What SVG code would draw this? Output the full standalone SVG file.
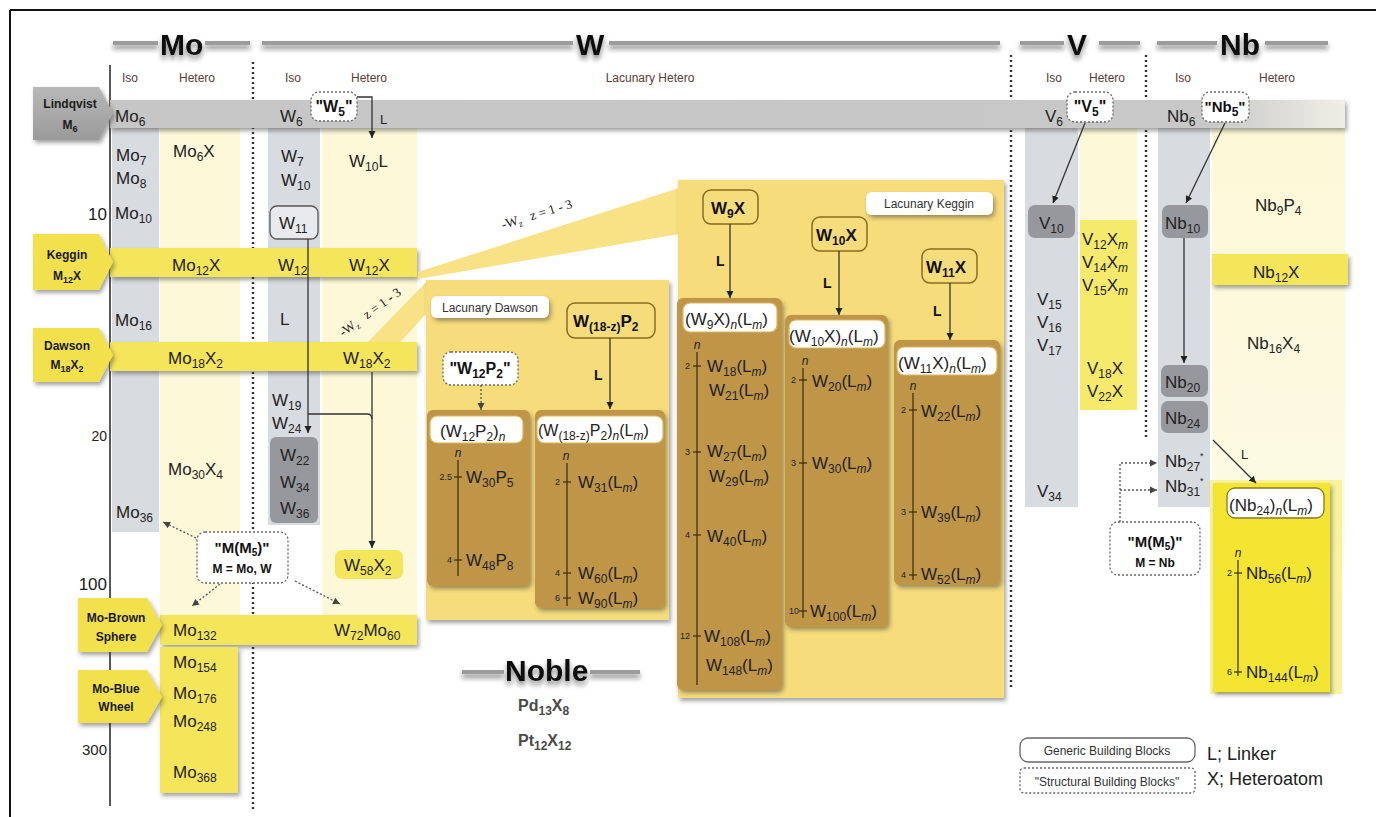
<svg xmlns="http://www.w3.org/2000/svg" width="1376" height="817" viewBox="0 0 1376 817">
<defs>
<style>
text{font-family:"Liberation Sans",Arial,Helvetica,sans-serif;font-size:17px;fill:#222}
.s{font-size:12px}
.i{font-style:italic}
.b{font-weight:bold;fill:#111}
.hd{font-size:30px;font-weight:bold;fill:#111}
.col{font-size:12px;fill:#5a3c35;text-anchor:middle}
.lab{font-size:12px;font-weight:bold;fill:#1a1a1a;text-anchor:middle}
.tk{font-size:9px;fill:#222;text-anchor:end}
.nn{font-size:12px;font-style:italic;fill:#222;text-anchor:middle}
.wz{font-family:"Liberation Serif","Times New Roman",serif;font-size:13px;fill:#222}
.iso{fill:#d8dbe0}
.het{fill:#fcf8d8}
.band{fill:#f5e55a}
.pan{fill:#f7dc7b}
.wedge{fill:#f8e285}
.brn{fill:#bf9546}
.hb{fill:#fff;stroke:#d9b865;stroke-width:1.2}
.dk{fill:#97989d}
.db{fill:#fff;stroke:#666;stroke-width:1.3;stroke-dasharray:2 2}
.gb{fill:#fff;stroke:#666;stroke-width:1.3}
.kb{fill:#f7dc7b;stroke:#8a6a1c;stroke-width:1.5}
.ax{stroke:#3a2a10;stroke-width:1.2}
.ln{stroke:#333;stroke-width:1.3;fill:none}
.dl{stroke:#555;stroke-width:1.3;fill:none;stroke-dasharray:2 2}
.sep{stroke:#333;stroke-width:2.4;stroke-dasharray:2 3}
.hl{stroke:#9c9c9c;stroke-width:4}
.ll{font-size:14px;font-weight:bold;fill:#111}
.lt{font-size:13px;fill:#222}
.lg{font-size:12px;fill:#333;text-anchor:middle}
.pl{font-size:12px;fill:#333;text-anchor:middle}
.mm{font-size:15px;font-weight:bold;fill:#111;text-anchor:middle}
.me{font-size:12px;font-weight:bold;fill:#111;text-anchor:middle}
.q{font-size:16px;font-weight:bold;fill:#111;text-anchor:middle}
.nb{font-size:16px;font-weight:bold;fill:#4a4a4a}
.key{font-size:18px;fill:#222}
</style>
<marker id="ar" markerWidth="8" markerHeight="8" refX="7" refY="4" orient="auto" markerUnits="userSpaceOnUse">
<path d="M0,0.5 L7,4 L0,7.5 z" fill="#222"/>
</marker>
<marker id="ard" markerWidth="8" markerHeight="8" refX="7" refY="4" orient="auto" markerUnits="userSpaceOnUse">
<path d="M0,0.5 L7,4 L0,7.5 z" fill="#444"/>
</marker>
<filter id="sh" x="-10%" y="-30%" width="130%" height="180%">
<feDropShadow dx="2" dy="3" stdDeviation="2" flood-color="#333" flood-opacity="0.45"/>
</filter>
<filter id="hs" x="-10%" y="-60%" width="130%" height="260%">
<feDropShadow dx="0" dy="4" stdDeviation="2.5" flood-color="#222" flood-opacity="0.55"/>
</filter>
<linearGradient id="lq" gradientUnits="userSpaceOnUse" x1="110" y1="0" x2="1345" y2="0">
<stop offset="0" stop-color="#c6c6c6"/>
<stop offset="0.89" stop-color="#c8c8c8"/>
<stop offset="1" stop-color="#efeee6"/>
</linearGradient>
<linearGradient id="nbh" x1="0" y1="0" x2="0" y2="1">
<stop offset="0" stop-color="#fcf8d6"/>
<stop offset="0.8" stop-color="#fdfae4"/>
<stop offset="1" stop-color="#ffffff"/>
</linearGradient>
<linearGradient id="lbl" x1="0" y1="0" x2="0" y2="1">
<stop offset="0" stop-color="#b8b8b8"/>
<stop offset="1" stop-color="#9a9a9a"/>
</linearGradient>
</defs>

<rect width="1376" height="817" fill="#fff"/>
<g id="frame">
<line x1="10" y1="10" x2="1376" y2="10" stroke="#111" stroke-width="2"/>
<line x1="10" y1="10" x2="10" y2="817" stroke="#111" stroke-width="2"/>
</g>

<g id="columns">
<rect class="iso" x="112" y="128" width="47" height="404"/>
<rect class="het" x="160" y="128" width="80" height="487"/>
<rect class="iso" x="268" y="128" width="52" height="397"/>
<rect class="het" x="322" y="128" width="95" height="487"/>
<rect class="iso" x="1025" y="128" width="53" height="379"/>
<rect class="het" x="1080" y="128" width="57" height="92"/>
<rect fill="#f6ea6c" x="1080" y="220" width="57" height="190"/>
<rect class="iso" x="1158" y="128" width="52" height="379"/>
<rect fill="url(#nbh)" x="1212" y="128" width="133" height="480"/>
</g>

<g id="headers">
<g filter="url(#hs)">
<line class="hl" x1="113" y1="43" x2="158" y2="43"/>
<line class="hl" x1="205" y1="43" x2="250" y2="43"/>
<line class="hl" x1="262" y1="43" x2="573" y2="43"/>
<line class="hl" x1="609" y1="43" x2="1000" y2="43"/>
<line class="hl" x1="1020" y1="43" x2="1064" y2="43"/>
<line class="hl" x1="1099" y1="43" x2="1140" y2="43"/>
<line class="hl" x1="1157" y1="43" x2="1217" y2="43"/>
<line class="hl" x1="1265" y1="43" x2="1328" y2="43"/>
<line class="hl" x1="462" y1="672" x2="504" y2="672"/>
<line class="hl" x1="590" y1="672" x2="640" y2="672"/>
<text class="hd" x="160" y="55">Mo</text>
<text class="hd" x="576" y="55">W</text>
<text class="hd" x="1067" y="55">V</text>
<text class="hd" x="1220" y="55">Nb</text>
<text class="hd" x="505" y="681">Noble</text>
</g>
<text class="col" x="130" y="82">Iso</text>
<text class="col" x="197" y="82">Hetero</text>
<text class="col" x="293" y="82">Iso</text>
<text class="col" x="369" y="82">Hetero</text>
<text class="col" x="650" y="82">Lacunary Hetero</text>
<text class="col" x="1054" y="82">Iso</text>
<text class="col" x="1107" y="82">Hetero</text>
<text class="col" x="1183" y="82">Iso</text>
<text class="col" x="1277" y="82">Hetero</text>
</g>

<g id="axis">
<line x1="110" y1="65" x2="110" y2="806" stroke="#222" stroke-width="1.5"/>
<text x="107" y="220" text-anchor="end">10</text>
<text x="107" y="441" text-anchor="end" style="font-size:14px">20</text>
<text x="107" y="590" text-anchor="end">100</text>
<text x="107" y="755" text-anchor="end" style="font-size:15px">300</text>
</g>

<g id="separators">
<line class="sep" x1="253" y1="62" x2="253" y2="812"/>
<line class="sep" x1="1011" y1="55" x2="1011" y2="688"/>
<line class="sep" x1="1146" y1="55" x2="1146" y2="438"/>
</g>

<g id="lindqvist">
<rect x="110" y="100" width="1235" height="28" fill="url(#lq)" filter="url(#sh)"/>
<polygon points="33,87 99,87 113,113 99,140 33,140" fill="url(#lbl)" filter="url(#sh)"/>
<text class="lab" x="70" y="108">Lindqvist</text>
<text class="lab" x="70" y="129">M<tspan font-size="9" dy="3">6</tspan></text>
</g>
<g id="keggin">
<rect class="band" x="110" y="248" width="307" height="29" filter="url(#sh)"/>
<polygon points="33,234 99,234 113,262 99,290 33,290" fill="#f2e14e" filter="url(#sh)"/>
<text class="lab" x="67" y="259">Keggin</text>
<text class="lab" x="67" y="280">M<tspan font-size="9" dy="3">12</tspan><tspan dy="-3">X</tspan></text>
</g>
<g id="dawson">
<rect class="band" x="110" y="342" width="307" height="29" filter="url(#sh)"/>
<polygon points="33,328 99,328 113,355 99,382 33,382" fill="#f2e14e" filter="url(#sh)"/>
<text class="lab" x="67" y="350">Dawson</text>
<text class="lab" x="67" y="369">M<tspan font-size="9" dy="3">18</tspan><tspan dy="-3">X</tspan><tspan font-size="9" dy="3">2</tspan></text>
</g>
<g id="mo-brown">
<rect class="band" x="160" y="615" width="257" height="30" filter="url(#sh)"/>
<polygon points="78,598 147,598 162,625 147,652 78,652" fill="#f2e14e" filter="url(#sh)"/>
<text class="lab" x="116" y="622">Mo-Brown</text>
<text class="lab" x="116" y="641">Sphere</text>
</g>
<g id="mo-blue">
<rect class="band" x="160" y="647" width="78" height="146" filter="url(#sh)"/>
<polygon points="78,670 147,670 162,697 147,723 78,723" fill="#f2e14e" filter="url(#sh)"/>
<text class="lab" x="116" y="693">Mo-Blue</text>
<text class="lab" x="116" y="711">Wheel</text>
</g>
<g id="nb12x">
<rect class="band" x="1212" y="254" width="136" height="31" filter="url(#sh)"/>
<text x="1253" y="278">Nb<tspan class="s" dy="4">12</tspan><tspan dy="-4">X</tspan></text>
</g>

<g id="wedges">
<polygon class="wedge" points="418,272 679,188 679,234 418,279"/>
<polygon class="wedge" points="368,342 428,280 428,312 400,342"/>
<text class="wz" transform="translate(503,229) rotate(-17)">-W<tspan font-size="9" dy="3">z</tspan><tspan dy="-3" dx="9">z = 1 - 3</tspan></text>
<text class="wz" transform="translate(343,337) rotate(-36)">-W<tspan font-size="9" dy="3">z</tspan><tspan dy="-3" dx="9">z = 1 - 3</tspan></text>
</g>

<g id="lacunary-dawson">
<rect class="pan" x="426" y="280" width="243" height="340" filter="url(#sh)"/>
<rect x="431" y="296" width="118" height="22" rx="6" fill="#fff" filter="url(#sh)"/>
<text class="pl" x="490" y="312">Lacunary Dawson</text>
</g>
<g id="lacunary-keggin">
<rect class="pan" x="678" y="180" width="326" height="518" filter="url(#sh)"/>
<rect x="866" y="192" width="127" height="23" rx="6" fill="#fff" filter="url(#sh)"/>
<text class="pl" x="929" y="208">Lacunary Keggin</text>
</g>

<g id="W9X">
<rect class="kb" x="703" y="190" width="55" height="34" rx="8"/>
<text class="b" x="711" y="214">W<tspan class="s" dy="4">9</tspan><tspan dy="-4">X</tspan></text>
</g>
<g id="W10X">
<rect class="kb" x="812" y="217" width="55" height="34" rx="8"/>
<text class="b" x="816" y="241">W<tspan class="s" dy="4">10</tspan><tspan dy="-4">X</tspan></text>
</g>
<g id="W11X">
<rect class="kb" x="922" y="249" width="55" height="34" rx="8"/>
<text class="b" x="926" y="273">W<tspan class="s" dy="4">11</tspan><tspan dy="-4">X</tspan></text>
</g>
<g id="W18zP2">
<rect class="kb" x="567" y="303" width="88" height="35" rx="8"/>
<text class="b" x="573" y="327">W<tspan class="s" dy="4">(18-z)</tspan><tspan dy="-4">P</tspan><tspan class="s" dy="4">2</tspan></text>
</g>
<g id="W12P2">
<rect class="db" x="443" y="352" width="75" height="33" rx="8"/>
<text class="q" x="480" y="374">"W<tspan class="s" dy="4">12</tspan><tspan dy="-4">P</tspan><tspan class="s" dy="4">2</tspan><tspan dy="-4">"</tspan></text>
</g>

<g id="W9X-n">
<rect class="brn" x="677" y="298" width="105" height="392" rx="6" filter="url(#sh)"/>
<rect class="hb" x="683" y="303" width="94" height="29" rx="7"/>
<text x="685" y="325">(W<tspan class="s" dy="4">9</tspan><tspan dy="-4">X)</tspan><tspan class="s i" dy="4">n</tspan><tspan dy="-4">(L</tspan><tspan class="s i" dy="4">m</tspan><tspan dy="-4">)</tspan></text>
<line class="ax" x1="697" y1="352" x2="697" y2="685"/>
<text class="nn" x="697" y="349">n</text>
<line class="ax" x1="693" y1="366" x2="701" y2="366"/><text class="tk" x="690" y="369">2</text>
<line class="ax" x1="693" y1="452" x2="701" y2="452"/><text class="tk" x="690" y="455">3</text>
<line class="ax" x1="693" y1="535" x2="701" y2="535"/><text class="tk" x="690" y="538">4</text>
<line class="ax" x1="693" y1="636" x2="701" y2="636"/><text class="tk" x="690" y="639">12</text>
<text x="707" y="372">W<tspan class="s" dy="4">18</tspan><tspan dy="-4">(L</tspan><tspan class="s i" dy="4">m</tspan><tspan dy="-4">)</tspan></text>
<text x="709" y="396">W<tspan class="s" dy="4">21</tspan><tspan dy="-4">(L</tspan><tspan class="s i" dy="4">m</tspan><tspan dy="-4">)</tspan></text>
<text x="707" y="457">W<tspan class="s" dy="4">27</tspan><tspan dy="-4">(L</tspan><tspan class="s i" dy="4">m</tspan><tspan dy="-4">)</tspan></text>
<text x="709" y="482">W<tspan class="s" dy="4">29</tspan><tspan dy="-4">(L</tspan><tspan class="s i" dy="4">m</tspan><tspan dy="-4">)</tspan></text>
<text x="707" y="542">W<tspan class="s" dy="4">40</tspan><tspan dy="-4">(L</tspan><tspan class="s i" dy="4">m</tspan><tspan dy="-4">)</tspan></text>
<text x="704" y="642">W<tspan class="s" dy="4">108</tspan><tspan dy="-4">(L</tspan><tspan class="s i" dy="4">m</tspan><tspan dy="-4">)</tspan></text>
<text x="706" y="671">W<tspan class="s" dy="4">148</tspan><tspan dy="-4">(L</tspan><tspan class="s i" dy="4">m</tspan><tspan dy="-4">)</tspan></text>
</g>

<g id="W10X-n">
<rect class="brn" x="785" y="315" width="103" height="312" rx="6" filter="url(#sh)"/>
<rect class="hb" x="789" y="320" width="96" height="28" rx="7"/>
<text x="789" y="342">(W<tspan class="s" dy="4">10</tspan><tspan dy="-4">X)</tspan><tspan class="s i" dy="4">n</tspan><tspan dy="-4">(L</tspan><tspan class="s i" dy="4">m</tspan><tspan dy="-4">)</tspan></text>
<line class="ax" x1="803" y1="368" x2="803" y2="618"/>
<text class="nn" x="805" y="365">n</text>
<line class="ax" x1="799" y1="380" x2="807" y2="380"/><text class="tk" x="796" y="383">2</text>
<line class="ax" x1="799" y1="463" x2="807" y2="463"/><text class="tk" x="796" y="466">3</text>
<line class="ax" x1="799" y1="611" x2="807" y2="611"/><text class="tk" x="799" y="614">10</text>
<text x="812" y="387">W<tspan class="s" dy="4">20</tspan><tspan dy="-4">(L</tspan><tspan class="s i" dy="4">m</tspan><tspan dy="-4">)</tspan></text>
<text x="812" y="469">W<tspan class="s" dy="4">30</tspan><tspan dy="-4">(L</tspan><tspan class="s i" dy="4">m</tspan><tspan dy="-4">)</tspan></text>
<text x="810" y="617">W<tspan class="s" dy="4">100</tspan><tspan dy="-4">(L</tspan><tspan class="s i" dy="4">m</tspan><tspan dy="-4">)</tspan></text>
</g>

<g id="W11X-n">
<rect class="brn" x="894" y="340" width="106" height="245" rx="6" filter="url(#sh)"/>
<rect class="hb" x="897" y="347" width="100" height="28" rx="7"/>
<text x="898" y="369">(W<tspan class="s" dy="4">11</tspan><tspan dy="-4">X)</tspan><tspan class="s i" dy="4">n</tspan><tspan dy="-4">(L</tspan><tspan class="s i" dy="4">m</tspan><tspan dy="-4">)</tspan></text>
<line class="ax" x1="913" y1="393" x2="913" y2="580"/>
<text class="nn" x="913" y="390">n</text>
<line class="ax" x1="909" y1="410" x2="917" y2="410"/><text class="tk" x="906" y="413">2</text>
<line class="ax" x1="909" y1="512" x2="917" y2="512"/><text class="tk" x="906" y="515">3</text>
<line class="ax" x1="909" y1="575" x2="917" y2="575"/><text class="tk" x="906" y="578">4</text>
<text x="921" y="417">W<tspan class="s" dy="4">22</tspan><tspan dy="-4">(L</tspan><tspan class="s i" dy="4">m</tspan><tspan dy="-4">)</tspan></text>
<text x="921" y="518">W<tspan class="s" dy="4">39</tspan><tspan dy="-4">(L</tspan><tspan class="s i" dy="4">m</tspan><tspan dy="-4">)</tspan></text>
<text x="921" y="580">W<tspan class="s" dy="4">52</tspan><tspan dy="-4">(L</tspan><tspan class="s i" dy="4">m</tspan><tspan dy="-4">)</tspan></text>
</g>

<g id="W12P2-n">
<rect class="brn" x="427" y="410" width="103" height="176" rx="6" filter="url(#sh)"/>
<rect class="hb" x="430" y="416" width="93" height="27" rx="7"/>
<text x="440" y="437">(W<tspan class="s" dy="4">12</tspan><tspan dy="-4">P</tspan><tspan class="s" dy="4">2</tspan><tspan dy="-4">)</tspan><tspan class="s i" dy="4">n</tspan></text>
<line class="ax" x1="458" y1="460" x2="458" y2="576"/>
<text class="nn" x="458" y="457">n</text>
<line class="ax" x1="454" y1="477" x2="462" y2="477"/><text class="tk" x="452" y="480">2.5</text>
<line class="ax" x1="454" y1="560" x2="462" y2="560"/><text class="tk" x="452" y="563">4</text>
<text x="466" y="483">W<tspan class="s" dy="4">30</tspan><tspan dy="-4">P</tspan><tspan class="s" dy="4">5</tspan></text>
<text x="466" y="566">W<tspan class="s" dy="4">48</tspan><tspan dy="-4">P</tspan><tspan class="s" dy="4">8</tspan></text>
</g>

<g id="W18zP2-n">
<rect class="brn" x="535" y="410" width="130" height="198" rx="6" filter="url(#sh)"/>
<rect class="hb" x="537" y="416" width="126" height="27" rx="7"/>
<text x="538" y="436" style="font-size:16px">(W<tspan class="s" dy="4">(18-z)</tspan><tspan dy="-4">P</tspan><tspan class="s" dy="4">2</tspan><tspan dy="-4">)</tspan><tspan class="s i" dy="4">n</tspan><tspan dy="-4">(L</tspan><tspan class="s i" dy="4">m</tspan><tspan dy="-4">)</tspan></text>
<line class="ax" x1="567" y1="463" x2="567" y2="606"/>
<text class="nn" x="566" y="460">n</text>
<line class="ax" x1="563" y1="482" x2="571" y2="482"/><text class="tk" x="560" y="485">2</text>
<line class="ax" x1="563" y1="573" x2="571" y2="573"/><text class="tk" x="560" y="576">4</text>
<line class="ax" x1="563" y1="598" x2="571" y2="598"/><text class="tk" x="560" y="601">6</text>
<text x="578" y="488">W<tspan class="s" dy="4">31</tspan><tspan dy="-4">(L</tspan><tspan class="s i" dy="4">m</tspan><tspan dy="-4">)</tspan></text>
<text x="578" y="579">W<tspan class="s" dy="4">60</tspan><tspan dy="-4">(L</tspan><tspan class="s i" dy="4">m</tspan><tspan dy="-4">)</tspan></text>
<text x="578" y="604">W<tspan class="s" dy="4">90</tspan><tspan dy="-4">(L</tspan><tspan class="s i" dy="4">m</tspan><tspan dy="-4">)</tspan></text>
</g>

<g id="Nb24-n">
<rect x="1210" y="480" width="132" height="214" fill="#f7f08a" opacity="0.8"/>
<rect x="1213" y="483" width="117" height="209" fill="#f3e531" filter="url(#sh)"/>
<rect x="1227" y="488" width="97" height="30" rx="8" fill="#fff" stroke="#8a7a20" stroke-width="1.3"/>
<text x="1229" y="511">(Nb<tspan class="s" dy="4">24</tspan><tspan dy="-4">)</tspan><tspan class="s i" dy="4">n</tspan><tspan dy="-4">(L</tspan><tspan class="s i" dy="4">m</tspan><tspan dy="-4">)</tspan></text>
<line class="ax" x1="1238" y1="560" x2="1238" y2="676"/>
<text class="nn" x="1238" y="557">n</text>
<line class="ax" x1="1234" y1="573" x2="1242" y2="573"/><text class="tk" x="1232" y="576">2</text>
<line class="ax" x1="1234" y1="672" x2="1242" y2="672"/><text class="tk" x="1232" y="675">6</text>
<text x="1246" y="579">Nb<tspan class="s" dy="4">56</tspan><tspan dy="-4">(L</tspan><tspan class="s i" dy="4">m</tspan><tspan dy="-4">)</tspan></text>
<text x="1246" y="678">Nb<tspan class="s" dy="4">144</tspan><tspan dy="-4">(L</tspan><tspan class="s i" dy="4">m</tspan><tspan dy="-4">)</tspan></text>
</g>

<g id="Mo6"><text x="115" y="122">Mo<tspan class="s" dy="4">6</tspan></text></g>
<g id="Mo7"><text x="116" y="161">Mo<tspan class="s" dy="4">7</tspan></text></g>
<g id="Mo8"><text x="116" y="184">Mo<tspan class="s" dy="4">8</tspan></text></g>
<g id="Mo10"><text x="115" y="219">Mo<tspan class="s" dy="4">10</tspan></text></g>
<g id="Mo6X"><text x="173" y="157">Mo<tspan class="s" dy="4">6</tspan><tspan dy="-4">X</tspan></text></g>
<g id="Mo12X"><text x="172" y="271">Mo<tspan class="s" dy="4">12</tspan><tspan dy="-4">X</tspan></text></g>
<g id="Mo16"><text x="115" y="326">Mo<tspan class="s" dy="4">16</tspan></text></g>
<g id="Mo18X2"><text x="168" y="364">Mo<tspan class="s" dy="4">18</tspan><tspan dy="-4">X</tspan><tspan class="s" dy="4">2</tspan></text></g>
<g id="Mo30X4"><text x="168" y="475">Mo<tspan class="s" dy="4">30</tspan><tspan dy="-4">X</tspan><tspan class="s" dy="4">4</tspan></text></g>
<g id="Mo36"><text x="116" y="518">Mo<tspan class="s" dy="4">36</tspan></text></g>
<g id="Mo132"><text x="173" y="636">Mo<tspan class="s" dy="4">132</tspan></text></g>
<g id="Mo154"><text x="173" y="668">Mo<tspan class="s" dy="4">154</tspan></text></g>
<g id="Mo176"><text x="173" y="699">Mo<tspan class="s" dy="4">176</tspan></text></g>
<g id="Mo248"><text x="173" y="727">Mo<tspan class="s" dy="4">248</tspan></text></g>
<g id="Mo368"><text x="173" y="778">Mo<tspan class="s" dy="4">368</tspan></text></g>

<g id="W6"><text x="280" y="122">W<tspan class="s" dy="4">6</tspan></text></g>
<g id="W5">
<rect class="db" x="311" y="92" width="46" height="29" rx="8"/>
<text class="q" x="334" y="112">"W<tspan class="s" dy="4">5</tspan><tspan dy="-4">"</tspan></text>
</g>
<g id="W7"><text x="281" y="162">W<tspan class="s" dy="4">7</tspan></text></g>
<g id="W10"><text x="281" y="186">W<tspan class="s" dy="4">10</tspan></text></g>
<g id="W10L"><text x="349" y="167">W<tspan class="s" dy="4">10</tspan><tspan dy="-4">L</tspan></text></g>
<g id="W11">
<rect x="270" y="206" width="48" height="33" rx="7" fill="#e9eaed" stroke="#555" stroke-width="1.3"/>
<text x="279" y="229">W<tspan class="s" dy="4">11</tspan></text>
</g>
<g id="W12"><text x="278" y="271">W<tspan class="s" dy="4">12</tspan></text></g>
<g id="W12X"><text x="349" y="271">W<tspan class="s" dy="4">12</tspan><tspan dy="-4">X</tspan></text></g>
<g id="L-iso"><text x="280" y="325">L</text></g>
<g id="W18X2"><text x="343" y="364">W<tspan class="s" dy="4">18</tspan><tspan dy="-4">X</tspan><tspan class="s" dy="4">2</tspan></text></g>
<g id="W19"><text x="272" y="406">W<tspan class="s" dy="4">19</tspan></text></g>
<g id="W24"><text x="272" y="429">W<tspan class="s" dy="4">24</tspan></text></g>
<g id="W22-36">
<rect class="dk" x="270" y="437" width="48" height="86" rx="6"/>
<text x="280" y="461">W<tspan class="s" dy="4">22</tspan></text>
<text x="280" y="488">W<tspan class="s" dy="4">34</tspan></text>
<text x="280" y="514">W<tspan class="s" dy="4">36</tspan></text>
</g>
<g id="MM5-MoW">
<rect class="db" x="197" y="532" width="91" height="51" rx="8"/>
<text class="mm" x="242" y="553">"M(M<tspan font-size="10" dy="3">5</tspan><tspan dy="-3">)"</tspan></text>
<text class="me" x="242" y="573">M = Mo, W</text>
</g>
<g id="W58X2">
<rect class="band" x="335" y="550" width="68" height="29" rx="7"/>
<text x="344" y="571">W<tspan class="s" dy="4">58</tspan><tspan dy="-4">X</tspan><tspan class="s" dy="4">2</tspan></text>
</g>
<g id="W72Mo60"><text x="334" y="636">W<tspan class="s" dy="4">72</tspan><tspan dy="-4">Mo</tspan><tspan class="s" dy="4">60</tspan></text></g>

<g id="V6"><text x="1045" y="122">V<tspan class="s" dy="4">6</tspan></text></g>
<g id="V5">
<rect class="db" x="1067" y="92" width="46" height="30" rx="8"/>
<text class="q" x="1090" y="112">"V<tspan class="s" dy="4">5</tspan><tspan dy="-4">"</tspan></text>
</g>
<g id="V10">
<rect class="dk" x="1028" y="205" width="47" height="33" rx="7"/>
<text x="1039" y="229">V<tspan class="s" dy="4">10</tspan></text>
</g>
<g id="V12Xm"><text x="1082" y="245">V<tspan class="s" dy="4">12</tspan><tspan dy="-4">X</tspan><tspan class="s i" dy="4">m</tspan></text></g>
<g id="V14Xm"><text x="1082" y="268">V<tspan class="s" dy="4">14</tspan><tspan dy="-4">X</tspan><tspan class="s i" dy="4">m</tspan></text></g>
<g id="V15Xm"><text x="1082" y="291">V<tspan class="s" dy="4">15</tspan><tspan dy="-4">X</tspan><tspan class="s i" dy="4">m</tspan></text></g>
<g id="V15"><text x="1037" y="305">V<tspan class="s" dy="4">15</tspan></text></g>
<g id="V16"><text x="1037" y="328">V<tspan class="s" dy="4">16</tspan></text></g>
<g id="V17"><text x="1037" y="351">V<tspan class="s" dy="4">17</tspan></text></g>
<g id="V18X"><text x="1087" y="374">V<tspan class="s" dy="4">18</tspan><tspan dy="-4">X</tspan></text></g>
<g id="V22X"><text x="1087" y="397">V<tspan class="s" dy="4">22</tspan><tspan dy="-4">X</tspan></text></g>
<g id="V34"><text x="1037" y="497">V<tspan class="s" dy="4">34</tspan></text></g>

<g id="Nb6"><text x="1167" y="122">Nb<tspan class="s" dy="4">6</tspan></text></g>
<g id="Nb5">
<rect class="db" x="1202" y="92" width="47" height="30" rx="8"/>
<text class="q" x="1225" y="112" style="font-size:15px">"Nb<tspan class="s" dy="4">5</tspan><tspan dy="-4">"</tspan></text>
</g>
<g id="Nb10">
<rect class="dk" x="1162" y="205" width="46" height="33" rx="7"/>
<text x="1165" y="229">Nb<tspan class="s" dy="4">10</tspan></text>
</g>
<g id="Nb9P4"><text x="1255" y="211">Nb<tspan class="s" dy="4">9</tspan><tspan dy="-4">P</tspan><tspan class="s" dy="4">4</tspan></text></g>
<g id="Nb16X4"><text x="1247" y="349">Nb<tspan class="s" dy="4">16</tspan><tspan dy="-4">X</tspan><tspan class="s" dy="4">4</tspan></text></g>
<g id="Nb20">
<rect class="dk" x="1161" y="365" width="47" height="32" rx="7"/>
<text x="1165" y="388">Nb<tspan class="s" dy="4">20</tspan></text>
</g>
<g id="Nb24">
<rect class="dk" x="1161" y="401" width="47" height="32" rx="7"/>
<text x="1165" y="424">Nb<tspan class="s" dy="4">24</tspan></text>
</g>
<g id="Nb27"><text x="1165" y="467">Nb<tspan class="s" dy="4">27</tspan><tspan font-size="9" dy="-12">*</tspan></text></g>
<g id="Nb31"><text x="1165" y="492">Nb<tspan class="s" dy="4">31</tspan><tspan font-size="9" dy="-12">*</tspan></text></g>
<g id="MM5-Nb">
<rect class="db" x="1110" y="522" width="90" height="53" rx="8"/>
<text class="mm" x="1155" y="547">"M(M<tspan font-size="10" dy="3">5</tspan><tspan dy="-3">)"</tspan></text>
<text class="me" x="1155" y="567">M = Nb</text>
</g>

<g id="noble">
<text class="nb" x="518" y="711">Pd<tspan class="s" dy="4">13</tspan><tspan dy="-4">X</tspan><tspan class="s" dy="4">8</tspan></text>
<text class="nb" x="518" y="746">Pt<tspan class="s" dy="4">12</tspan><tspan dy="-4">X</tspan><tspan class="s" dy="4">12</tspan></text>
</g>

<g id="legend">
<rect class="gb" x="1020" y="738" width="175" height="24" rx="8"/>
<text class="lg" x="1107" y="755">Generic Building Blocks</text>
<rect class="db" x="1020" y="768" width="175" height="25" rx="4"/>
<text class="lg" x="1107" y="786">"Structural Building Blocks"</text>
<text class="key" x="1207" y="760">L; Linker</text>
<text class="key" x="1207" y="785">X; Heteroatom</text>
</g>

<g id="connectors">
<path class="ln" d="M357,97 H372 V138" marker-end="url(#ar)"/>
<text class="lt" x="380" y="124">L</text>
<path class="ln" d="M308,239 V433" marker-end="url(#ar)"/>
<path class="ln" d="M308,414 H367 Q372,414 372,419"/>
<path class="ln" d="M372,372 V548" marker-end="url(#ar)"/>
<path class="ln" d="M730,224 V298" marker-end="url(#ar)"/>
<text class="ll" x="716" y="266">L</text>
<path class="ln" d="M839,251 V315" marker-end="url(#ar)"/>
<text class="ll" x="823" y="288">L</text>
<path class="ln" d="M950,283 V340" marker-end="url(#ar)"/>
<text class="ll" x="933" y="316">L</text>
<path class="ln" d="M610,338 V409" marker-end="url(#ar)"/>
<text class="ll" x="594" y="380">L</text>
<path class="dl" d="M481,385 V410" marker-end="url(#ard)"/>
<path class="ln" d="M1085,123 L1053,203" marker-end="url(#ar)"/>
<path class="ln" d="M1225,123 L1186,203" marker-end="url(#ar)"/>
<path class="ln" d="M1184,238 V363" marker-end="url(#ar)"/>
<path class="ln" d="M1213,440 L1256,483" marker-end="url(#ar)"/>
<text class="lt" x="1241" y="459">L</text>
<path class="dl" d="M196,538 L163,522" marker-end="url(#ard)"/>
<path class="dl" d="M220,584 L192,606" marker-end="url(#ard)"/>
<path class="dl" d="M295,581 L340,604" marker-end="url(#ard)"/>
<path class="dl" d="M1120,522 V463 H1157" marker-end="url(#ard)"/>
<path class="dl" d="M1120,490 H1157" marker-end="url(#ard)"/>
</g>
</svg>
